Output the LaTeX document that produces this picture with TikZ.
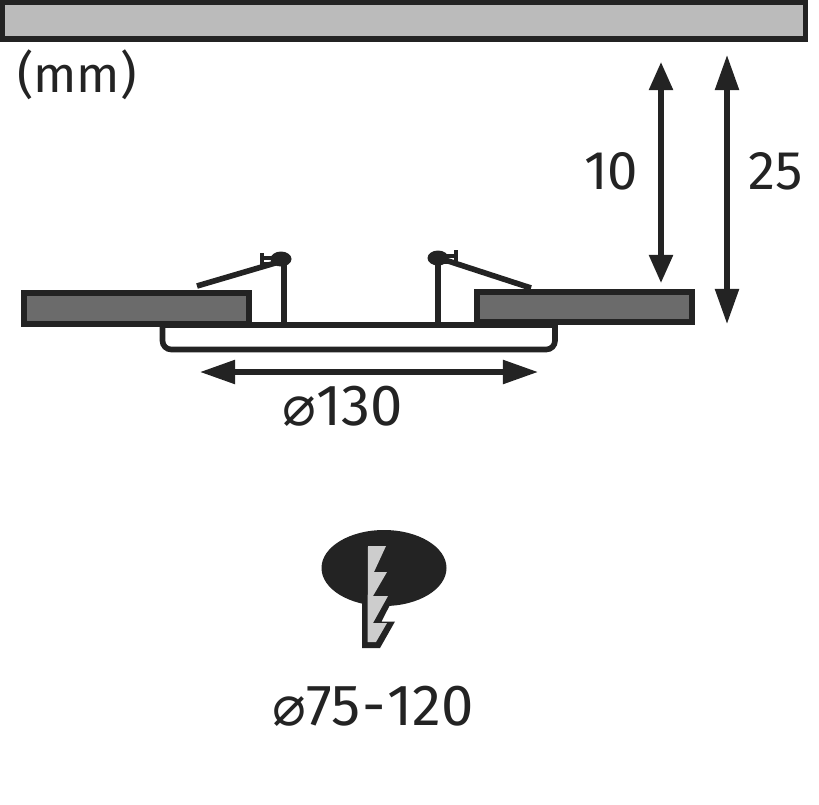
\documentclass[tikz,border=0pt]{standalone}
\usepackage{fontspec}
\setmainfont{Fira Sans}
\newfontfamily\SymbolFont{DejaVu Sans}
\usetikzlibrary{arrows.meta,positioning}
\definecolor{InkColor}{HTML}{232323}
\definecolor{CeilingColor}{HTML}{BBBBBB}
\definecolor{PanelColor}{HTML}{6B6B6B}
\definecolor{BoltColor}{HTML}{CDCDCD}
\newcommand{\DiaSign}{{\SymbolFont\fontsize{16}{16}\selectfont ⌀}}
\tikzset{
	body/.style={draw=InkColor, line width=1.5pt, fill=#1},
	wire/.style={draw=InkColor, line width=1.6pt},
	measure/.style={draw=InkColor, line width=1.45pt, {Triangle[length=8pt,width=6.6pt]}-{Triangle[length=8pt,width=6.6pt]}},
	measurelong/.style={draw=InkColor, line width=1.45pt, {Triangle[length=10pt,width=6.6pt]}-{Triangle[length=10pt,width=6.6pt]}},
	label/.style={text=InkColor, font=\fontsize{15.5}{15.5}\selectfont, inner sep=0pt},
	biglabel/.style={label, font=\fontsize{16.5}{16.5}\selectfont}
}
\begin{document}
\begin{tikzpicture}[x=0.1mm,y=-0.1mm]
	\useasboundingbox (0,0) rectangle (819,804);
	\pgfmathsetmacro{\TrimTop}{325}
	\pgfmathsetmacro{\TrimBottom}{349.5}
	\pgfmathsetmacro{\LeftPost}{284}
	\pgfmathsetmacro{\RightPost}{438}

	% ceiling and panels
	\draw[body=CeilingColor] (2,2) rectangle (805.5,39);
	\draw[body=PanelColor] (24,293) rectangle (249,324);
	\draw[body=PanelColor] (477,292) rectangle (692,322);

	% trim ring
	\draw[wire] (160,\TrimTop) -- (557,\TrimTop);
	\draw[wire, rounded corners=2.5pt] (162.5,\TrimTop) -- (162.5,\TrimBottom) -- (555,\TrimBottom) -- (555,\TrimTop);

	% spring clips
	\draw[wire] (\LeftPost,\TrimTop) -- (\LeftPost,259);
	\draw[wire] (\RightPost,\TrimTop) -- (\RightPost,258);
	\draw[wire] (197,286) -- (282,261);
	\draw[wire] (531,288) -- (442,259);
	\fill[InkColor] (281,259) ellipse [x radius=10.5, y radius=7.5];
	\fill[InkColor] (438,258) ellipse [x radius=10.5, y radius=7.5];
	\draw[wire, line width=1.2pt] (262,253) -- (262,266) (262,258) -- (274,258) (262,264) -- (274,264);
	\draw[wire, line width=1.2pt] (456,250) -- (456,265) (456,256) -- (444,256) (456,262) -- (444,262);

	% dimensions
	\coordinate (GapTop) at (661,62);
	\coordinate (GapBottom) at (661,283);
	\coordinate (DepthTop) at (727,55);
	\coordinate (DepthBottom) at (727,324);
	\coordinate (WidthLeft) at (200,372);
	\coordinate (WidthRight) at (538,372);
	\draw[measure] (GapTop) -- (GapBottom);
	\draw[measurelong] (DepthTop) -- (DepthBottom);
	\draw[measurelong] (WidthLeft) -- (WidthRight);

	\node[label] (GapLabel) at (611,171) {10};
	\node[label] (DepthLabel) at (776,171) {25};
	\node[label, font=\fontsize{14.4}{14.4}\selectfont] (UnitLabel) at (77,75) {(mm)};
	\node[biglabel] (WidthLabel) at (343,406) {\DiaSign130};

	% hole and screw
	\fill[InkColor] (384,568) ellipse [x radius=62.5, y radius=38];
	\fill[InkColor] (362,600) -- (362,648) -- (380,648) -- (395,621.5) -- (381.5,621.5) -- (394,597) -- cycle;
	\fill[BoltColor] (368,546) -- (386,546) -- (374,572) -- (387,572) -- (373,596) -- (388,596) -- (373,623) -- (387,623) -- (376,642) -- (367.5,642) -- cycle;
	\node[biglabel] (HoleLabel) at (373,706) {\DiaSign75\kern0.5pt-\kern0.5pt120};
\end{tikzpicture}
\end{document}
